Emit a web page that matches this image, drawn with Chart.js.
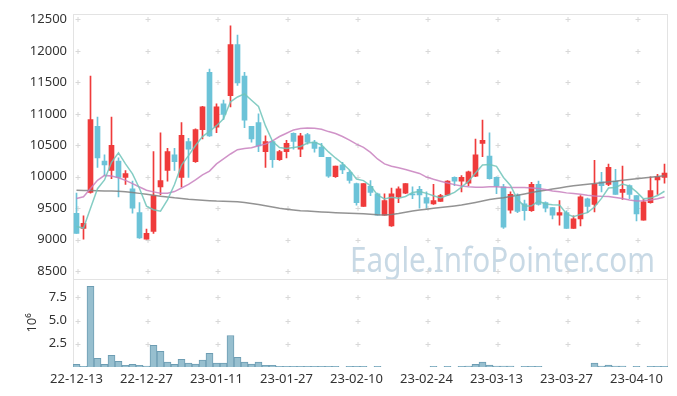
<!DOCTYPE html>
<html>
<head>
<meta charset="utf-8">
<script src="https://cdn.jsdelivr.net/npm/chart.js@4.4.1/dist/chart.umd.min.js"></script>
<style>
  html, body { margin: 0; padding: 0; background: #fff; }
  #wrap { width: 677px; height: 396px; }
</style>
</head>
<body>
<div id="wrap"><canvas id="stock-chart" width="677" height="396"></canvas></div>
<script>
/*==== data ====*/
const dates = [
  '22-12-13','22-12-14','22-12-15','22-12-16','22-12-19','22-12-20','22-12-21','22-12-22','22-12-23','22-12-26',
  '22-12-27','22-12-28','22-12-29','23-01-02','23-01-03','23-01-04','23-01-05','23-01-06','23-01-09','23-01-10',
  '23-01-11','23-01-12','23-01-13','23-01-16','23-01-17','23-01-18','23-01-19','23-01-20','23-01-25','23-01-26',
  '23-01-27','23-01-30','23-01-31','23-02-01','23-02-02','23-02-03','23-02-06','23-02-07','23-02-08','23-02-09',
  '23-02-10','23-02-13','23-02-14','23-02-15','23-02-16','23-02-17','23-02-20','23-02-21','23-02-22','23-02-23',
  '23-02-24','23-02-27','23-02-28','23-03-02','23-03-03','23-03-06','23-03-07','23-03-08','23-03-09','23-03-10',
  '23-03-13','23-03-14','23-03-15','23-03-16','23-03-17','23-03-20','23-03-21','23-03-22','23-03-23','23-03-24',
  '23-03-27','23-03-28','23-03-29','23-03-30','23-03-31','23-04-03','23-04-04','23-04-05','23-04-06','23-04-07',
  '23-04-10','23-04-11','23-04-12','23-04-13','23-04-14'
];
const opens = [
  9420, 9180, 9750, 10800, 10250, 10100, 10250, 9990, 9810, 9430,
  9010, 9130, 9840, 10100, 10350, 9990, 10560, 10240, 10750, 11660,
  10790, 11160, 11290, 12100, 11600, 10800, 10860, 10400, 10560, 10270,
  10400, 10690, 10440, 10670, 10550, 10470, 10310, 10000, 10190, 10070,
  9890, 9530, 9850, 9730, 9390, 9220, 9680, 9740, 9730, 9800,
  9670, 9570, 9610, 9710, 9990, 9930, 9900, 10010, 10530, 10330,
  9990, 9840, 9470, 9710, 9570, 9460, 9880, 9590, 9510, 9390,
  9430, 9180, 9330, 9650, 9560, 9920, 9880, 9930, 9750, 9860,
  9700, 9310, 9590, 9950, 9990
];
const highs = [
  9740, 9380, 11600, 10950, 10350, 10950, 10300, 10100, 9930, 9590,
  9170, 10400, 10700, 10450, 10450, 10860, 10610, 10760, 11120, 11710,
  11160, 11220, 12400, 12250, 11660, 10800, 11000, 10650, 10570, 10420,
  10580, 10700, 10690, 10690, 10580, 10530, 10310, 10170, 10230, 10100,
  9900, 9890, 9940, 9740, 9730, 9820, 9840, 9890, 9840, 9850,
  9760, 9880, 9720, 9940, 10000, 10020, 10090, 10600, 10900, 10700,
  10000, 9880, 9760, 9730, 9630, 9910, 9930, 9600, 9510, 9620,
  9460, 9380, 9700, 9660, 10260, 10070, 10200, 10120, 10170, 9870,
  9700, 9640, 10000, 10040, 10200
];
const lows = [
  9100, 9010, 9740, 10150, 10020, 9970, 9680, 9880, 9420, 9020,
  9010, 9100, 9710, 9930, 10100, 9840, 9990, 10230, 10600, 10640,
  10700, 10910, 11110, 11450, 10780, 10550, 10400, 10150, 10150, 10260,
  10300, 10440, 10320, 10520, 10390, 10320, 9990, 9990, 10050, 9900,
  9550, 9530, 9700, 9390, 9390, 9210, 9590, 9730, 9650, 9500,
  9500, 9560, 9610, 9700, 9860, 9760, 9860, 10000, 10320, 9960,
  9730, 9180, 9420, 9430, 9310, 9450, 9550, 9440, 9330, 9230,
  9180, 9180, 9220, 9430, 9440, 9760, 9860, 9720, 9640, 9650,
  9300, 9310, 9580, 9720, 9900
];
const closes = [
  9100, 9260, 10910, 10300, 10190, 10500, 9990, 10050, 9500, 9030,
  9100, 9700, 9940, 10400, 10240, 10660, 10440, 10750, 11110, 10650,
  11110, 10990, 12100, 11490, 10900, 10600, 10490, 10560, 10270, 10400,
  10530, 10560, 10650, 10550, 10450, 10320, 10010, 10170, 10110, 9940,
  9590, 9890, 9750, 9390, 9620, 9730, 9810, 9890, 9710, 9710,
  9580, 9620, 9700, 9930, 9930, 9990, 10080, 10350, 10580, 9970,
  9850, 9200, 9720, 9450, 9460, 9880, 9560, 9500, 9390, 9430,
  9180, 9330, 9680, 9530, 9880, 9860, 10150, 9720, 9800, 9720,
  9410, 9600, 9780, 10000, 10060
];
const ma5 = [
  9210, 9185, 9500, 9810, 9950, 10230, 10380, 10205, 10046, 9813,
  9533, 9476, 9454, 9634, 9876, 10187, 10336, 10497, 10639, 10721,
  10812, 10922, 11192, 11268, 11318, 11215, 11116, 10808, 10563, 10464,
  10450, 10464, 10482, 10537, 10547, 10505, 10395, 10299, 10211, 10109,
  9964, 9939, 9855, 9712, 9648, 9676, 9660, 9687, 9750, 9767,
  9736, 9699, 9662, 9707, 9752, 9836, 9929, 10059, 10188, 10195,
  10166, 9989, 9862, 9636, 9533, 9539, 9612, 9568, 9556, 9551,
  9411, 9365, 9402, 9430, 9520, 9657, 9821, 9829, 9883, 9851,
  9759, 9649, 9661, 9702, 9770
];
const ma20 = [
  9655, 9681, 9812, 9943, 10022, 10011, 9985, 9943, 9890, 9838,
  9786, 9760, 9740, 9740, 9765, 9822, 9880, 9950, 10030, 10090,
  10205, 10283, 10362, 10430, 10451, 10462, 10493, 10519, 10572, 10640,
  10692, 10745, 10766, 10776, 10771, 10755, 10718, 10687, 10640, 10582,
  10519, 10467, 10388, 10283, 10205, 10168, 10142, 10116, 10084, 10053,
  9995, 9960, 9930, 9900, 9875, 9855, 9840, 9832, 9835, 9840,
  9840, 9833, 9828, 9828, 9828, 9822, 9812, 9796, 9775, 9760,
  9744, 9733, 9723, 9707, 9695, 9690, 9688, 9672, 9655, 9630,
  9615, 9620, 9630, 9650, 9678
];
const ma60 = [
  9786, 9783, 9780, 9778, 9775, 9773, 9770, 9760, 9749, 9736,
  9723, 9707, 9691, 9678, 9665, 9655, 9644, 9636, 9628, 9620,
  9613, 9610, 9606, 9602, 9590, 9575, 9560, 9540, 9518, 9498,
  9485, 9472, 9461, 9454, 9447, 9440, 9435, 9429, 9424, 9420,
  9417, 9414, 9405, 9398, 9394, 9400, 9415, 9435, 9455, 9472,
  9485, 9498, 9511, 9522, 9535, 9550, 9570, 9592, 9615, 9638,
  9655, 9668, 9685, 9705, 9727, 9750, 9770, 9787, 9805, 9822,
  9840, 9856, 9868, 9880, 9892, 9905, 9920, 9930, 9943, 9955,
  9967, 9980, 9992, 10005, 10015
];
const volumes = [
  290000, 70000, 8680000, 930000, 290000, 1250000, 600000, 180000, 290000, 180000,
  110000, 2320000, 1680000, 540000, 290000, 820000, 430000, 320000, 750000, 1460000,
  430000, 430000, 3390000, 1040000, 540000, 320000, 540000, 180000, 180000, 70000,
  70000, 70000, 70000, 70000, 70000, 70000, 70000, 70000, 0, 70000,
  70000, 70000, 0, 70000, 0, 0, 0, 0, 0, 0,
  0, 70000, 0, 70000, 0, 70000, 100000, 290000, 540000, 200000,
  100000, 100000, 100000, 0, 70000, 70000, 70000, 0, 0, 0,
  0, 0, 0, 0, 430000, 100000, 200000, 100000, 100000, 0,
  70000, 0, 70000, 70000, 70000
];
const priceTicks = [8500, 9000, 9500, 10000, 10500, 11000, 11500, 12000, 12500];
const volumeTicks = [2500000, 5000000, 7500000];

/*==== styles ====*/
const upColor = '#ef3b3b';
const downColor = '#6cc3d8';
const candleColors = opens.map(function(o, i){
    return closes[i] >= o ? upColor : downColor;
});

Chart.defaults.font.family = '"Noto Sans", sans-serif';
Chart.defaults.font.size = 13;
Chart.defaults.color = '#333';

// grid crosses, panel borders and watermark
const panelDeco = {
    id: 'panelDeco',
    beforeDatasetsDraw(chart) {
        const ctx = chart.ctx;
        const a = chart.chartArea;
        const x = chart.scales.x, y = chart.scales.y, yv = chart.scales.yv;
        ctx.save();

        // watermark
        const txt = 'Eagle.InfoPointer.com';
        ctx.font = '35px "Noto Sans"';
        ctx.fillStyle = 'rgba(186,208,222,0.8)';
        ctx.textBaseline = 'alphabetic';
        const w = ctx.measureText(txt).width;
        ctx.save();
        ctx.translate(a.right - 318, y.bottom - 7);
        ctx.scale(305 / w, 1);
        ctx.fillText(txt, 0, 0);
        ctx.restore();

        // crosses
        ctx.strokeStyle = '#d8d8d8';
        ctx.lineWidth = 1;
        var xs = [];
        for (var i = 0; i < dates.length; i += 10) xs.push(Math.round(x.getPixelForValue(i)) + 0.5);
        var ys = priceTicks.map(function(v){ return Math.round(y.getPixelForValue(v)) + 0.5; })
            .concat(volumeTicks.map(function(v){ return Math.round(yv.getPixelForValue(v)) + 0.5; }));
        ctx.beginPath();
        xs.forEach(function(px){
            ys.forEach(function(py){
                ctx.moveTo(px - 2, py); ctx.lineTo(px + 3, py);
                ctx.moveTo(px + 0.5, py - 2.5); ctx.lineTo(px + 0.5, py + 2.5);
            });
        });
        ctx.stroke();

        // borders
        ctx.strokeStyle = '#e3e3e3';
        const l = Math.round(a.left) + 0.5, r = Math.round(a.right) - 0.5;
        ctx.strokeRect(l, Math.round(y.top) + 0.5, r - l, Math.round(y.bottom - y.top));
        ctx.beginPath();
        ctx.moveTo(l, yv.top); ctx.lineTo(l, yv.bottom);
        ctx.moveTo(r, yv.top); ctx.lineTo(r, yv.bottom);
        ctx.stroke();
        ctx.restore();
    }
};

const config_stock = {
    data: {
        labels: dates,
        datasets: [
            { type: 'line', label: 'MA5', data: ma5, yAxisID: 'y', borderColor: 'rgba(112,196,186,0.85)', borderWidth: 1.5, pointRadius: 0, order: 0 },
            { type: 'line', label: 'MA20', data: ma20, yAxisID: 'y', borderColor: 'rgba(200,128,190,0.85)', borderWidth: 1.5, pointRadius: 0, order: 0 },
            { type: 'line', label: 'MA60', data: ma60, yAxisID: 'y', borderColor: 'rgba(128,128,128,0.85)', borderWidth: 1.5, pointRadius: 0, order: 0 },
            {
                type: 'bar', label: 'wick', yAxisID: 'y', order: 2, grouped: false,
                data: lows.map(function(l, i){ return [l, highs[i]]; }),
                backgroundColor: candleColors, barThickness: 1, minBarLength: 1
            },
            {
                type: 'bar', label: 'body', yAxisID: 'y', order: 1, grouped: false,
                data: opens.map(function(o, i){ return [o, closes[i]]; }),
                backgroundColor: candleColors, barThickness: 5, minBarLength: 1
            },
            {
                type: 'bar', label: 'volume', yAxisID: 'yv', order: 1, grouped: false,
                data: volumes,
                backgroundColor: '#97bfcf', borderColor: '#6d9db3', borderWidth: 1,
                barPercentage: 1, categoryPercentage: 1
            }
        ]
    },
    options: {
        responsive: false,
        animation: false,
        layout: { padding: { top: 10, right: 9, left: 0, bottom: 0 } },
        plugins: { legend: { display: false }, tooltip: { enabled: false } },
        scales: {
            x: {
                type: 'category', offset: true,
                grid: { display: false, drawTicks: false }, border: { display: false },
                ticks: {
                    autoSkip: false, maxRotation: 0, padding: 4,
                    callback: function(val, idx){ return idx % 10 === 0 ? this.getLabelForValue(val) : ''; }
                },
                afterFit: function(s){ s.height = 29; }
            },
            yv: {
                position: 'left', stack: 'panel', stackWeight: 1,
                min: 0, max: 9500000,
                grid: { display: false, drawTicks: false }, border: { display: false },
                ticks: { padding: 6, autoSkip: false, callback: function(v){ return (v / 1e6).toFixed(1); } },
                title: { display: true, text: '10\u2076', padding: { top: 24, bottom: 0 }, font: { size: 13 } },
                afterBuildTicks: function(s){ s.ticks = volumeTicks.map(function(v){ return { value: v }; }); },
                afterFit: function(s){ s.width = 73; }
            },
            y: {
                position: 'left', stack: 'panel', stackWeight: 3,
                min: 8380, max: 12590,
                grid: { display: false, drawTicks: false }, border: { display: false },
                ticks: { padding: 6, autoSkip: false, callback: function(v){ return String(v); } },
                afterBuildTicks: function(s){ s.ticks = priceTicks.map(function(v){ return { value: v }; }); },
                afterFit: function(s){ s.width = 73; }
            }
        }
    },
    plugins: [panelDeco]
};

/*===== render =====*/
var stockChart = new Chart(document.getElementById('stock-chart'), config_stock);
</script>
</body>
</html>
